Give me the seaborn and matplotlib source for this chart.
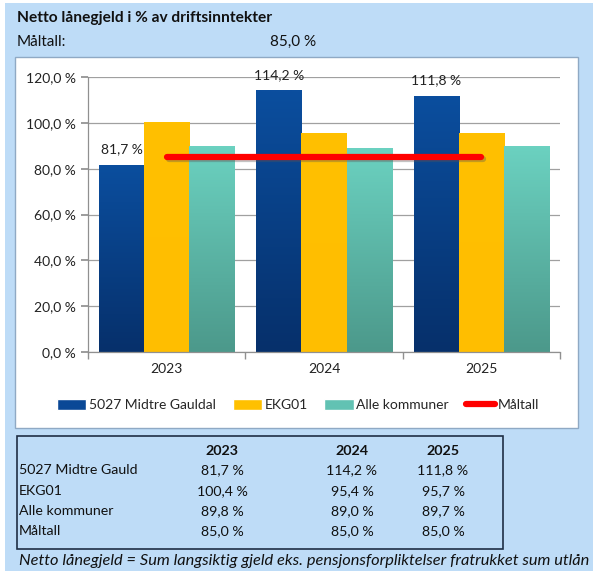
import matplotlib
matplotlib.use("Agg")
import matplotlib.pyplot as plt
import seaborn as sns
import pandas as pd
import numpy as np
from matplotlib.patches import Rectangle
from matplotlib.lines import Line2D
from matplotlib.colors import to_rgb
import matplotlib.patheffects as pe

years = ["2023", "2024", "2025"]
series_names = ["5027 Midtre Gauldal", "EKG01", "Alle kommuner"]
midtre_gauldal = [81.7, 114.2, 111.8]
ekg01 = [100.4, 95.4, 95.7]
alle_kommuner = [89.8, 89.0, 89.7]
maltall = [85.0, 85.0, 85.0]
yticks = [0, 20, 40, 60, 80, 100, 120]
table_rows = ["5027 Midtre Gauld", "EKG01", "Alle kommuner", "Måltall"]

colors = ["#0A4896", "#FFC000", "#62C2B3"]
grad_top = ["#0B4E9E", "#FFC000", "#6BD1C0"]
grad_bottom = ["#06306B", "#FFBE00", "#4C998B"]

sns.set_theme(style="white")
plt.rcParams["font.family"] = ["Lato", "DejaVu Sans"]

W, H = 593, 571
fig = plt.figure(figsize=(W / 100, H / 100), dpi=100)
fig.patch.set_facecolor("white")

def fx(x):
    return x / W

def fy(y):
    return 1 - y / H

# light blue background
fig.patches.append(Rectangle((fx(5), 0), 1 - fx(5), fy(3), transform=fig.transFigure,
                             facecolor="#BEDCF7", edgecolor="none", zorder=-3))
# chart box
fig.patches.append(Rectangle((fx(15), fy(428)), fx(578 - 15), (428 - 57) / H,
                             transform=fig.transFigure, facecolor="white",
                             edgecolor="#8FA9C4", linewidth=1.0, zorder=-2))
# table box
fig.patches.append(Rectangle((fx(17), fy(549)), fx(503 - 17), (549 - 436) / H,
                             transform=fig.transFigure, facecolor="none",
                             edgecolor="#1F2F45", linewidth=1.2, zorder=-1))

df = pd.DataFrame({
    "year": years * 3,
    "serie": sum([[s] * 3 for s in series_names], []),
    "value": midtre_gauldal + ekg01 + alle_kommuner,
})

ax = fig.add_axes([fx(88), fy(352), fx(560 - 88), (352 - 77) / H])
ax.set_zorder(2)
ax.set_facecolor("white")
sns.barplot(data=df, x="year", y="value", hue="serie", hue_order=series_names,
            palette=colors, width=0.86, saturation=1, ax=ax, legend=False,
            edgecolor="none", linewidth=0, zorder=2)

# vertical gradient fill on each bar (like the Excel original)
for cont, ctop, cbot in zip(ax.containers, grad_top, grad_bottom):
    t = np.array(to_rgb(ctop))
    b = np.array(to_rgb(cbot))
    ramp = np.linspace(0, 1, 64)[:, None]
    grad = (b[None, :] * (1 - ramp) + t[None, :] * ramp)[:, None, :]
    for rect in cont:
        x0, y0 = rect.get_x(), rect.get_y()
        w, h = rect.get_width(), rect.get_height()
        im = ax.imshow(grad, extent=[x0, x0 + w, y0, y0 + h], origin="lower",
                       aspect="auto", zorder=2.1, interpolation="bilinear")
        im.set_clip_path(rect)

x = np.arange(len(years))
ax.plot(x, maltall, color="#FF0000", linewidth=4.5, solid_capstyle="round", zorder=4,
        path_effects=[pe.SimpleLineShadow(offset=(1.5, -1.5), shadow_color="#555555", alpha=0.35),
                      pe.Normal()])

ax.set_ylim(0, 120)
ax.set_xlim(-0.5, 2.5)
ax.set_yticks(yticks)
ax.set_yticklabels([f"{v:.1f} %".replace(".", ",") for v in yticks], fontsize=10, color="#222222")
ax.set_xticks(x)
ax.set_xticklabels(years, fontsize=10, color="#222222")
ax.yaxis.grid(True, color="#A0A0A0", linewidth=0.9)
ax.set_axisbelow(True)
ax.set_xlabel("")
ax.set_ylabel("")
for s in ["top", "right"]:
    ax.spines[s].set_visible(False)
for s in ["left", "bottom"]:
    ax.spines[s].set_color("#909090")
    ax.spines[s].set_linewidth(0.9)
ax.tick_params(axis="y", length=5, color="#909090", left=True, pad=4)
ax.tick_params(axis="x", length=0, pad=8)
ax.set_xticks([-0.5, 0.5, 1.5, 2.5], minor=True)
ax.tick_params(axis="x", which="minor", length=5, color="#909090", bottom=True)

# data labels for first series
bars = ax.containers[0]
for rect, v in zip(bars, midtre_gauldal):
    ax.text(rect.get_x() + rect.get_width() / 2, v + 4, f"{v:.1f} %".replace(".", ","),
            ha="center", va="bottom", fontsize=10, color="#222222", zorder=5)

# legend
handles = [Rectangle((0, 0), 1, 1, facecolor=c) for c in colors]
handles.append(Line2D([0], [0], color="#FF0000", linewidth=4.5))
fig.legend(handles, series_names + ["Måltall"], loc="center", bbox_to_anchor=(fx(298), fy(405)),
           ncol=4, frameon=False, fontsize=10, handlelength=2.1, handleheight=0.9,
           handletextpad=0.2, columnspacing=1.2)

# title
fig.text(fx(17), fy(18), "Netto lånegjeld i % av driftsinntekter", fontsize=11.2,
         fontweight="bold", va="center", ha="left", color="#111111")
fig.text(fx(17), fy(42), "Måltall:", fontsize=11, va="center", ha="left", color="#111111")
fig.text(fx(293), fy(42), "85,0 %", fontsize=11, va="center", ha="center", color="#111111")

# table
col_x = [222, 352, 443]
fmt = lambda v: f"{v:.1f} %".replace(".", ",")
for cx, yr in zip(col_x, years):
    fig.text(fx(cx), fy(451), yr, fontsize=10.3, fontweight="bold", ha="center", va="center",
             color="#111111")
row_y = [470, 491, 511, 531]
row_vals = [midtre_gauldal, ekg01, alle_kommuner, maltall]
for ry, name, vals in zip(row_y, table_rows, row_vals):
    fig.text(fx(19), fy(ry), name, fontsize=10.2, ha="left", va="center", color="#111111")
    for cx, v in zip(col_x, vals):
        fig.text(fx(cx), fy(ry), fmt(v), fontsize=10.2, ha="center", va="center", color="#111111")

fig.text(fx(19), fy(561), "Netto lånegjeld = Sum langsiktig gjeld eks. pensjonsforpliktelser fratrukket sum utlån",
         fontsize=11.8, style="italic", ha="left", va="center", color="#111111")

fig.savefig("out.png", dpi=100)
